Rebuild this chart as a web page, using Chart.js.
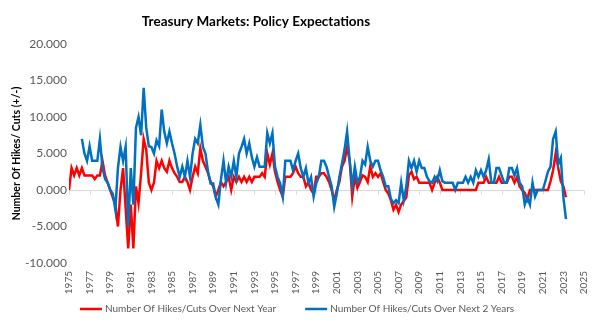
<!DOCTYPE html>
<html>
<head>
<meta charset="utf-8">
<script src="https://cdn.jsdelivr.net/npm/chart.js@4.4.1/dist/chart.umd.min.js"></script>
<style>
  html, body { margin: 0; padding: 0; background: #ffffff; }
  #wrap { width: 601px; height: 325px; position: relative; }
</style>
</head>
<body>
<div id="wrap"><canvas id="chart"></canvas></div>
<script>
// Quarterly readings, one row per calendar year (Q1..Q4)
const nextYearStart = 1975;
const nextYear = [
  0, 3, 2, 3,            // 1975
  2, 3, 2, 2,            // 1976
  2, 2, 1.5, 2,          // 1977
  2, 4, 2, 1,            // 1978
  0, -1, -2, -5,         // 1979
  0, 3, -2.5, -8,        // 1980
  -2, -8, 0.5, -1.8,     // 1981
  2.3, 7, 5.5, 1,        // 1982
  0, 1, 4, 3,            // 1983
  4, 3, 2.5, 4,          // 1984
  3, 2.3, 1.8, 1.1,      // 1985
  1.1, 1.8, 1.1, 0,      // 1986
  1.8, 3.2, 2.3, 5.7,    // 1987
  4, 3.2, 2.3, 1.1,      // 1988
  0.5, -0.9, 0, 1.1,     // 1989
  0.5, 1.1, 1.8, 0,      // 1990
  1.8, 1.1, 1.8, 1.1,    // 1991
  1.8, 1.1, 1.8, 1.1,    // 1992
  1.8, 1.8, 1.8, 2.3,    // 1993
  1.8, 5, 3.5, 5,        // 1994
  2.5, 1.1, 0, -0.9,     // 1995
  1.8, 1.8, 1.8, 2.3,    // 1996
  3.2, 2.3, 1.8, 1.8,    // 1997
  0.5, 1.1, 0, -0.5,     // 1998
  1.8, 1.8, 2.3, 2.3,    // 1999
  1.8, 1.1, 0, -1.4,     // 2000
  0, 1.1, 3.2, 4,        // 2001
  5.9, 4, -0.9, 1.8,     // 2002
  0.3, 1.1, 2, 1.8,      // 2003
  1.1, 3.2, 1.8, 2.3,    // 2004
  1.8, 2.3, 1.1, 0,      // 2005
  -0.5, -1.4, -2.7, -2,  // 2006
  -3, -2, -1.5, -1,      // 2007
  2, 2.5, 1.5, 1.8,      // 2008
  1, 1, 1, 1,            // 2009
  1, 0, 1, 1.8,          // 2010
  1, 0, 0, 0,            // 2011
  0, 0, 0, 0,            // 2012
  0, 0, 0, 0,            // 2013
  0, 0, 0, 1,            // 2014
  1, 1, 1.8, 1,          // 2015
  1, 1, 1, 1.8,          // 2016
  1, 1, 1, 1.8,          // 2017
  1.8, 1, 1.8, 0.5,      // 2018
  0, -0.4, -1.3, 0,      // 2019
  0, 0, 0, 0,            // 2020
  0, 0, 0, 1.2,          // 2021
  2.7, 5, 3, 1.2,        // 2022
  0.5, -1                // 2023
];

const nextTwoYearsStart = 1976.25;
const nextTwoYears = [
  7, 5, 4,               // 1976 (from Q2)
  6, 4, 4, 4,            // 1977
  7, 3, 1.5, 1,          // 1978
  0, -0.5, -2.7, 3,      // 1979
  5.9, 4, 5.9, -5,       // 1980
  3, -2, 8.5, 10,        // 1981
  7.5, 14, 8.5, 6,       // 1982
  5.9, 5, 6.8, 6,        // 1983
  11, 8, 6.4, 8,         // 1984
  6.4, 5, 3.2, 1.8,      // 1985
  3.2, 1.8, 4, 1.8,      // 1986
  5, 7, 6.4, 8.9,        // 1987
  5.9, 5, 2.5, 0.9,      // 1988
  0.9, -1, -2, 1.4,      // 1989
  4, 1, 3.2, 1.8,        // 1990
  4, 1.8, 5, 5.9,        // 1991
  7, 5, 6.4, 4.5,        // 1992
  3.2, 4.5, 3.2, 3.2,    // 1993
  3.2, 7.8, 6.4, 7.8,    // 1994
  3.2, 1.8, 0.9, -0.9,   // 1995
  4, 4, 4, 2.7,          // 1996
  4, 5, 3, 1.8,          // 1997
  3, 0.9, 1.8, -0.9,     // 1998
  0.9, 1.8, 4, 4,        // 1999
  3.2, 1.8, 0.5, -2.3,   // 2000
  -0.5, 1.8, 3.6, 5.5,   // 2001
  8, 4, 0.5, 3.2,        // 2002
  1, 1.8, 4, 3.5,        // 2003
  5.9, 4, 3.2, 4,        // 2004
  4, 2.7, 1.8, 0.5,      // 2005
  0.5, -1.2, -1.8, -1.4, // 2006
  -1.8, 1, -1.4, 0.5,    // 2007
  4, 3, 4, 2.5,          // 2008
  4, 3, 3, 1.8,          // 2009
  1.2, 1, 1.8, 1.2,      // 2010
  2.7, 1.2, 1, 1,        // 2011
  1, 1, 0, 1,            // 2012
  1, 1, 1.8, 1,          // 2013
  1.8, 1, 2.7, 1.8,      // 2014
  2.7, 1.8, 2.7, 4.2,    // 2015
  1, 1, 3, 3,            // 2016
  2, 1, 1, 3,            // 2017
  3, 2, 3, 1,            // 2018
  0.5, -2, -1, -2,       // 2019
  1, -0.9, 0, 0,         // 2020
  0, 1.2, 2.5, 3.2,      // 2021
  7, 8, 3.5, 4.4,        // 2022
  -1, -4                 // 2023
];

// Year labels along the bottom (every other year)
const yearTicks = [
  1975, 1977, 1979, 1981, 1983, 1985, 1987, 1989, 1991, 1993, 1995, 1997, 1999,
  2001, 2003, 2005, 2007, 2009, 2011, 2013, 2015, 2017, 2019, 2021, 2023, 2025
];
const valueTicks = [-10, -5, 0, 5, 10, 15, 20];

const seriesNames = [
  'Number Of Hikes/Cuts Over Next Year',
  'Number Of Hikes/Cuts Over Next 2 Years'
];
const chartTitle = 'Treasury Markets: Policy Expectations';
const yAxisTitle = 'Number Of Hikes/ Cuts (+/-)';

const FONT = 'Lato, "Open Sans", sans-serif';
const GREY_TEXT = '#595959';
const ZERO_LINE = '#d9d9d9';
const RED = '#FF0000';
const BLUE = '#0070C0';

function toPoints(start, values) {
  return values.map((v, i) => ({ x: start + i / 4, y: v }));
}

// Title drawn over the plot, a little left of centre
const titlePlugin = {
  id: 'chartTitle',
  afterDraw(chart) {
    const ctx = chart.ctx;
    ctx.save();
    ctx.font = 'bold 13.5px ' + FONT;
    ctx.fillStyle = '#000000';
    ctx.textAlign = 'center';
    ctx.textBaseline = 'alphabetic';
    ctx.fillText(chartTitle, 256, 26);
    ctx.restore();
  }
};

// Small tick marks hanging under the zero line, one per labelled year
const zeroTicksPlugin = {
  id: 'zeroTicks',
  beforeDatasetsDraw(chart) {
    const xs = chart.scales.x, ys = chart.scales.y;
    const y0 = Math.round(ys.getPixelForValue(0)) + 0.5;
    const ctx = chart.ctx;
    ctx.save();
    ctx.strokeStyle = ZERO_LINE;
    ctx.lineWidth = 1;
    ctx.beginPath();
    yearTicks.forEach(v => {
      const px = Math.round(xs.getPixelForValue(v)) + 0.5;
      ctx.moveTo(px, y0);
      ctx.lineTo(px, y0 + 4);
    });
    ctx.stroke();
    ctx.restore();
  }
};

// Vertical year labels under the plot, placed with the x scale
const yearLabelsPlugin = {
  id: 'yearLabels',
  afterDraw(chart) {
    const xs = chart.scales.x;
    const top = chart.chartArea.bottom + 8;
    const ctx = chart.ctx;
    ctx.save();
    ctx.font = '10px ' + FONT;
    ctx.fillStyle = GREY_TEXT;
    ctx.textAlign = 'right';
    ctx.textBaseline = 'middle';
    yearTicks.forEach(v => {
      ctx.save();
      ctx.translate(xs.getPixelForValue(v), top);
      ctx.rotate(-Math.PI / 2);
      ctx.fillText(String(v), 0, 0);
      ctx.restore();
    });
    ctx.restore();
  }
};

// Legend row under the axis labels: red series first, wide gap between items
const legendRowPlugin = {
  id: 'legendRow',
  afterDraw(chart) {
    const ctx = chart.ctx;
    const items = [chart.data.datasets[1], chart.data.datasets[0]];
    const lineLen = 22, textGap = 3, itemGap = 29, centreX = 297, y = 309;
    ctx.save();
    ctx.font = '10px ' + FONT;
    ctx.textBaseline = 'middle';
    ctx.textAlign = 'left';
    const widths = items.map(d => lineLen + textGap + ctx.measureText(d.label).width);
    let x = centreX - (widths[0] + itemGap + widths[1]) / 2;
    items.forEach((d, i) => {
      ctx.strokeStyle = d.borderColor;
      ctx.lineWidth = 2.5;
      ctx.beginPath();
      ctx.moveTo(x, y);
      ctx.lineTo(x + lineLen, y);
      ctx.stroke();
      ctx.fillStyle = GREY_TEXT;
      ctx.fillText(d.label, x + lineLen + textGap, y);
      x += widths[i] + itemGap;
    });
    ctx.restore();
  }
};

new Chart(document.getElementById('chart'), {
  type: 'line',
  data: {
    datasets: [
      {
        label: seriesNames[1],
        data: toPoints(nextTwoYearsStart, nextTwoYears),
        borderColor: BLUE,
        backgroundColor: BLUE,
        borderWidth: 2.5,
        pointRadius: 0,
        tension: 0
      },
      {
        label: seriesNames[0],
        data: toPoints(nextYearStart, nextYear),
        borderColor: RED,
        backgroundColor: RED,
        borderWidth: 2.5,
        pointRadius: 0,
        tension: 0
      }
    ]
  },
  options: {
    responsive: true,
    maintainAspectRatio: false,
    animation: false,
    layout: { padding: { top: 44, right: 17, left: 0, bottom: 28 } },
    plugins: {
      title: { display: false },
      tooltip: { enabled: false },
      legend: { display: false }
    },
    scales: {
      x: {
        type: 'linear',
        min: yearTicks[0],
        max: yearTicks[yearTicks.length - 1],
        afterBuildTicks(scale) { scale.ticks = yearTicks.map(v => ({ value: v })); },
        afterFit(scale) { scale.height = 34; },
        ticks: { display: false },
        grid: { display: false, drawTicks: false },
        border: { display: false }
      },
      y: {
        min: valueTicks[0],
        max: valueTicks[valueTicks.length - 1],
        afterBuildTicks(scale) { scale.ticks = valueTicks.map(v => ({ value: v })); },
        afterFit(scale) { scale.width = 69; },
        ticks: {
          padding: 2,
          color: GREY_TEXT,
          font: { family: FONT, size: 12 },
          callback: v => Number(v).toFixed(3)
        },
        grid: {
          drawTicks: false,
          color: c => (c.tick && c.tick.value === 0 ? ZERO_LINE : 'rgba(0,0,0,0)')
        },
        border: { display: false },
        title: {
          display: true,
          text: yAxisTitle,
          color: '#000000',
          font: { family: FONT, size: 10.5, weight: 'bold' },
          padding: { top: 10, bottom: 0 }
        }
      }
    }
  },
  plugins: [titlePlugin, zeroTicksPlugin, yearLabelsPlugin, legendRowPlugin]
});
</script>
</body>
</html>
